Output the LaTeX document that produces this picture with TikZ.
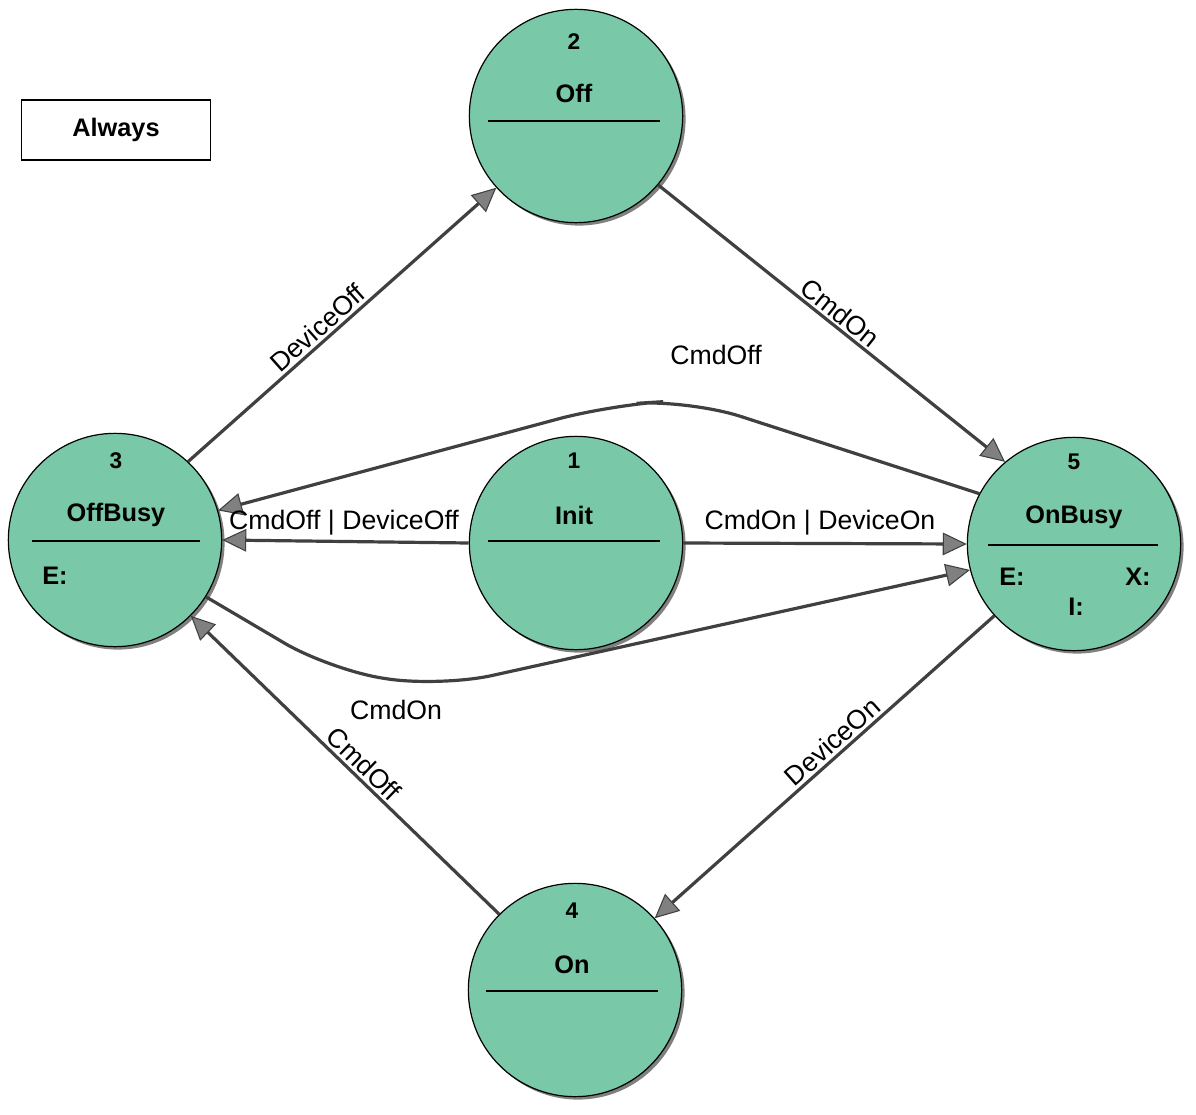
\documentclass[tikz,border=0pt]{standalone}
\usepackage{fontspec}
\setmainfont{Liberation Sans}
\usetikzlibrary{arrows.meta,shadows}
\definecolor{stfill}{HTML}{79C9A9}
\definecolor{edge}{HTML}{404040}
\definecolor{tipc}{HTML}{808080}
\begin{document}
\begin{tikzpicture}[x=0.75pt,y=-0.75pt,
  state/.style={circle,draw=black,line width=0.9pt,fill=stfill,minimum size=160pt,inner sep=0pt,
    drop shadow={shadow xshift=2.2pt,shadow yshift=-2.2pt,fill=tipc,opacity=1}},
  num/.style={font=\fontsize{17}{20}\selectfont\bfseries,inner sep=0pt},
  nm/.style={font=\fontsize{19}{22}\selectfont\bfseries,inner sep=0pt},
  sep/.style={line width=0.9pt,black},
  tr/.style={draw=edge,line width=2.4pt,rounded corners=40pt,-{Triangle[length=18pt,width=17pt,fill=tipc,line width=0.8pt]}},
  lab/.style={font=\fontsize{20}{24}\selectfont,inner sep=2pt,text=black}]
\useasboundingbox (0,0) rectangle (1196,1114);
\node[state] (off) at (576,116) {};
\node[state] (offbusy) at (115,540) {};
\node[state] (init) at (576,543) {};
\node[state] (onbusy) at (1074,544) {};
\node[state] (on) at (575,990) {};
% Always
\node[draw=black,line width=0.9pt,minimum width=142pt,minimum height=45pt,font=\fontsize{19}{22}\selectfont\bfseries] (always) at (116,130) {Always};
% texts
\node[num] (n2) at (574,42) {2}; \node[nm] (t2) at (574,93) {Off};
\draw[sep] (488,121) coordinate (s2a) -- (660,121) coordinate (s2b);
\node[num] (n3) at (116,461) {3}; \node[nm] (t3) at (116,515) {OffBusy};
\draw[sep] (32,541) coordinate (s3a) -- (200,541) coordinate (s3b);
\node[nm] (e3) at (55,576) {E:};
\node[num] (n1) at (574,461) {1}; \node[nm] (t1) at (574,515) {Init};
\draw[sep] (488,541) coordinate (s1a) -- (660,541) coordinate (s1b);
\node[num] (n5) at (1074,462) {5}; \node[nm] (t5) at (1074,517) {OnBusy};
\draw[sep] (988,545) coordinate (s5a) -- (1158,545) coordinate (s5b);
\node[nm] (e5) at (1012,577) {E:};
\node[nm] (x5) at (1138,577) {X:};
\node[nm] (i5) at (1076,607) {I:};
\node[num] (n4) at (572,911) {4}; \node[nm] (t4) at (572,965) {On};
\draw[sep] (486,991) coordinate (s4a) -- (658,991) coordinate (s4b);
% edges
\draw[tr] (offbusy.47) -- node[lab,sloped,above,pos=0.45] (l1) {DeviceOff} (off.222);
\draw[tr] (off.320) -- node[lab,sloped,above,pos=0.5] (l2) {CmdOn} (onbusy.130);
\draw[tr] (onbusy.152) -- (690,400) -- (610,405) -- (offbusy.16);
\node[lab] (l3) at (716,355) {CmdOff};
\draw[tr] (init.west) -- (offbusy.east);
\node[lab] (l4) at (344,523) {CmdOff | DeviceOff};
\draw[tr] (init.east) -- (onbusy.west);
\node[lab] (l5) at (820,523) {CmdOn | DeviceOn};
\draw[tr] (offbusy.-32) -- (330,670) -- (440,687) -- (onbusy.194);
\node[lab] (l6) at (396,710) {CmdOn};
\draw[tr] (onbusy.222) -- node[lab,sloped,above,pos=0.45] (l7) {DeviceOn} (on.42);
\draw[tr] (on.135) -- node[lab,sloped,above,pos=0.47] (l8) {CmdOff} (offbusy.-45);
\end{tikzpicture}
\end{document}
